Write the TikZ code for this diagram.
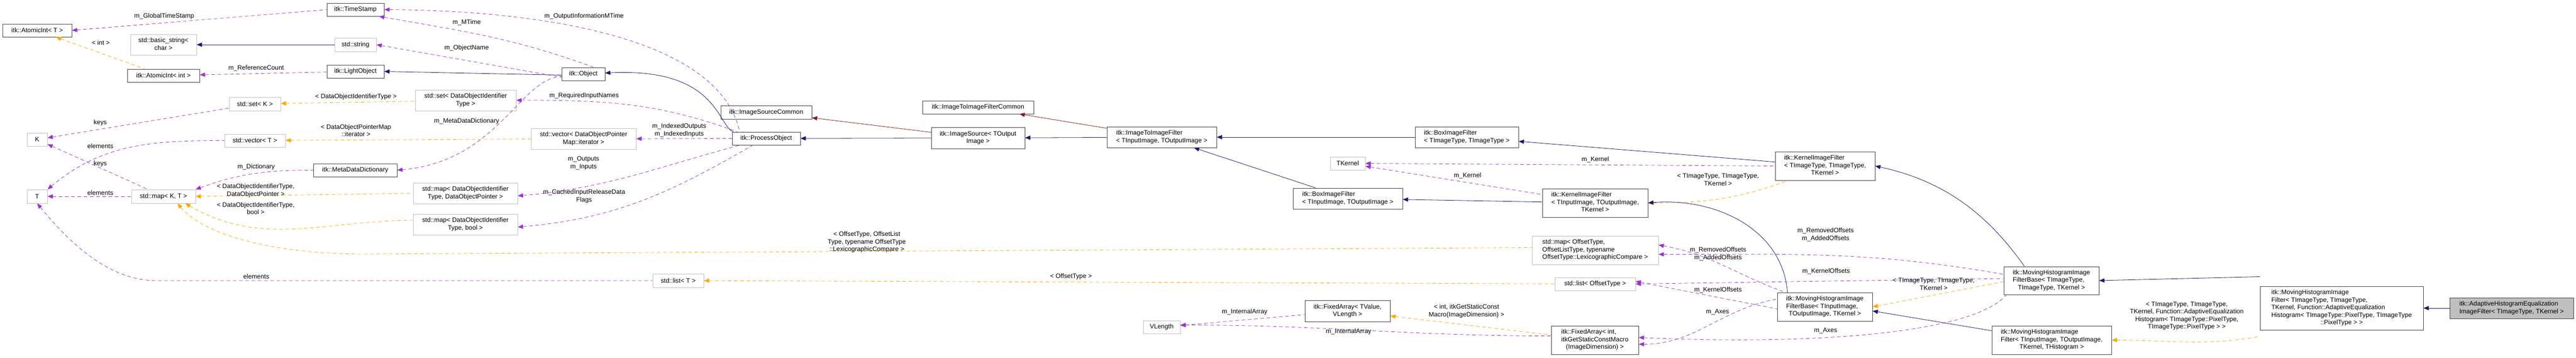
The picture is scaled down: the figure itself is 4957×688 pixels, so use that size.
\documentclass[tikz,border=0pt]{standalone}
\usepackage{fontspec}
\setmainfont{Liberation Sans}
\usetikzlibrary{arrows.meta}
\definecolor{blu}{HTML}{191970}
\definecolor{pur}{HTML}{9A32CD}
\definecolor{ora}{HTML}{FFA500}
\definecolor{dred}{HTML}{8B1A1A}
\definecolor{gb}{HTML}{BFBFBF}
\newcommand\tl[1]{\begin{tabular}{@{}l@{}}#1\end{tabular}}
\newcommand\lc[1]{\multicolumn{1}{@{}c@{}}{#1}}
\newcommand\bx[7]{\pgfmathsetmacro\bw{#4-#2}\pgfmathsetmacro\bh{#5-#3}%
  \node[#6,minimum width=\bw pt,minimum height=\bh pt] (#1) at ({(#2+#4)/2},{(#3+#5)/2}) {#7};}
\begin{document}
\begin{tikzpicture}[x=1pt,y=-1pt,
  every node/.style={font=\fontsize{12.3}{14.5}\selectfont,inner sep=0pt},
  cls/.style={draw=black!75,line width=1pt,fill=white},
  ext/.style={draw=gb,line width=1pt,fill=white},
  main/.style={draw=black!75,line width=1pt,fill=gb},
  lbl/.style={align=center},
  tip/.style={{Triangle[length=10pt,width=8pt]}-},
  inh/.style={tip,blu,line width=0.8pt},
  priv/.style={tip,dred,line width=0.8pt},
  use/.style={tip,pur,dashed,dash pattern=on 7pt off 5pt,line width=0.8pt},
  tpl/.style={tip,ora,dashed,dash pattern=on 7pt off 5pt,line width=0.8pt}]
\useasboundingbox[fill=white] (0,0) rectangle (4957,688);
% nodes
\bx{AtomicIntT}{5}{46}{138}{71}{cls}{itk::AtomicInt< T >}
\bx{basicstr}{251}{66}{378}{106}{ext}{\tl{std::basic\_string<\\\lc{char >}}}
\bx{AtomicIntInt}{245}{133}{384}{158}{cls}{itk::AtomicInt< int >}
\bx{setK}{441}{187}{540}{213}{ext}{std::set< K >}
\bx{K}{52}{256}{91}{281}{ext}{K}
\bx{vectorT}{432}{258}{549}{283}{ext}{std::vector< T >}
\bx{T}{52}{365}{91}{391}{ext}{T}
\bx{mapKT}{253}{365}{376}{391}{ext}{std::map< K, T >}
\bx{MDD}{603}{315}{764}{340}{cls}{itk::MetaDataDictionary}
\bx{TimeStamp}{629}{6}{739}{31}{cls}{itk::TimeStamp}
\bx{stdstring}{644}{73}{724}{99}{ext}{std::string}
\bx{LightObject}{629}{125}{739}{150}{cls}{itk::LightObject}
\bx{Object}{1081}{130}{1164}{155}{cls}{itk::Object}
\bx{setDOIT}{799}{173}{993}{213}{ext}{\tl{std::set< DataObjectIdentifier\\\lc{Type >}}}
\bx{vectorDOPMI}{1022}{247}{1224}{287}{ext}{\tl{std::vector< DataObjectPointer\\\lc{Map::iterator >}}}
\bx{mapDOP}{795}{352}{996}{392}{ext}{\tl{std::map< DataObjectIdentifier\\\lc{Type, DataObjectPointer >}}}
\bx{mapBool}{795}{412}{996}{452}{ext}{\tl{std::map< DataObjectIdentifier\\\lc{Type, bool >}}}
\bx{ISC}{1387}{203}{1562}{229}{cls}{itk::ImageSourceCommon}
\bx{PO}{1409}{254}{1540}{279}{cls}{itk::ProcessObject}
\bx{listT}{1256}{527}{1354}{553}{ext}{std::list< T >}
\bx{ITIFC}{1775}{194}{1989}{219}{cls}{itk::ImageToImageFilterCommon}
\bx{IS}{1792}{245}{1972}{286}{cls}{\tl{itk::ImageSource< TOutput\\\lc{Image >}}}
\bx{ITIF}{2130}{244}{2341}{284}{cls}{\tl{itk::ImageToImageFilter\\\lc{< TInputImage, TOutputImage >}}}
\bx{VLength}{2200}{617}{2271}{642}{ext}{VLength}
\bx{BoxTT}{2723}{244}{2922}{284}{cls}{\tl{itk::BoxImageFilter\\\lc{< TImageType, TImageType >}}}
\bx{TKernel}{2560}{302}{2627}{327}{ext}{TKernel}
\bx{BoxIO}{2488}{362}{2699}{402}{cls}{\tl{itk::BoxImageFilter\\\lc{< TInputImage, TOutputImage >}}}
\bx{KerIO}{2968}{363}{3171}{418}{cls}{\tl{itk::KernelImageFilter\\< TInputImage, TOutputImage,\\\lc{TKernel >}}}
\bx{mapOff}{2948}{454}{3191}{509}{ext}{\tl{std::map< OffsetType,\\OffsetListType, typename\\\lc{OffsetType::LexicographicCompare >}}}
\bx{listOff}{2992}{534}{3147}{559}{ext}{std::list< OffsetType >}
\bx{FATV}{2511}{578}{2675}{619}{cls}{\tl{itk::FixedArray< TValue,\\\lc{VLength >}}}
\bx{FAInt}{2985}{627}{3153}{682}{cls}{\tl{itk::FixedArray< int,\\itkGetStaticConstMacro\\\lc{(ImageDimension) >}}}
\bx{KerTT}{3416}{292}{3608}{347}{cls}{\tl{itk::KernelImageFilter\\< TImageType, TImageType,\\\lc{TKernel >}}}
\bx{MBIO}{3420}{563}{3603}{618}{cls}{\tl{itk::MovingHistogramImage\\FilterBase< TInputImage,\\\lc{TOutputImage, TKernel >}}}
\bx{MBTT}{3856}{513}{4039}{567}{cls}{\tl{itk::MovingHistogramImage\\FilterBase< TImageType,\\\lc{TImageType, TKernel >}}}
\bx{MFIO}{3833}{627}{4063}{682}{cls}{\tl{itk::MovingHistogramImage\\Filter< TInputImage, TOutputImage,\\\lc{TKernel, THistogram >}}}
\bx{MFTT}{4349}{551}{4663}{635}{cls}{\tl{itk::MovingHistogramImage\\Filter< TImageType, TImageType,\\ TKernel, Function::AdaptiveEqualization\\Histogram< TImageType::PixelType, TImageType\\\lc{::PixelType > >}}}
\bx{AHE}{4714}{573}{4952}{613}{main}{\tl{itk::AdaptiveHistogramEqualization\\\lc{ImageFilter< TImageType, TKernel >}}}
% edges
\draw[use] (AtomicIntT.east) -- (TimeStamp.west);
\draw[tpl] (AtomicIntT) -- (AtomicIntInt);
\draw[inh] (basicstr) -- (stdstring);
\draw[use] (AtomicIntInt) -- (LightObject);
\draw[tpl] (setK) -- (setDOIT);
\draw[use] (K) -- (setK);
\draw[tpl] (vectorT) -- (vectorDOPMI);
\draw[use] (T.north east) to[out=40,in=180] (vectorT.west);
\draw[use] (K) -- (mapKT);
\draw[use] (T) -- (mapKT);
\coordinate (lT1) at (300,540);
\draw[use] (T.south) .. controls (120,450) and (200,540) .. (lT1) -- (listT.west);
\draw[use] (mapKT.north east) to[out=20,in=180] (MDD.west);
\draw[tpl] (mapKT.east) -- (mapDOP.west);
\draw[tpl] ([xshift=-20pt]mapKT.south east) to[out=-30,in=180] ([yshift=8pt]mapBool.west);
\coordinate (mo1) at (700,489);
\draw[tpl] ([xshift=-35pt]mapKT.south east) .. controls (400,460) and (550,489) .. (mo1) -- ([yshift=5pt]mapOff.west);
\draw[use] ([xshift=-10pt]TimeStamp.south east) to[out=-10,in=160] ([xshift=20pt]Object.north);
\draw[use] (TimeStamp.east) .. controls (1000,20) and (1380,60) .. ([xshift=15pt]PO.north west);
\draw[use] (stdstring.east) -- ([yshift=-6pt]Object.west);
\draw[inh] (LightObject.east) -- ([yshift=-2pt]Object.west);
\draw[use] (MDD.east) .. controls (960,310) and (1000,150) .. ([yshift=-5pt]Object.west);
\draw[use] (setDOIT.east) to[out=0,in=160] ([xshift=10pt]PO.north west);
\draw[inh] ([yshift=2pt]Object.east) .. controls (1380,130) and (1380,240) .. ([xshift=2pt]PO.north west);
\draw[use] (vectorDOPMI.east) -- (PO.west);
\draw[use] ([yshift=-5pt]mapDOP.east) to[out=5,in=-165] ([xshift=15pt]PO.south west);
\draw[use] ([yshift=-5pt]mapBool.east) to[out=5,in=-150] ([xshift=40pt]PO.south west);
\draw[inh] (PO) -- (IS);
\draw[priv] (ISC) -- (IS);
\draw[inh] (IS) -- (ITIF);
\draw[priv] (ITIFC) -- (ITIF);
\draw[inh] (ITIF) -- (BoxTT);
\draw[inh] (ITIF) -- (BoxIO);
\draw[inh] (BoxTT) -- (KerTT);
\draw[use] (TKernel.east) -- (KerTT.west);
\draw[use] (TKernel) -- (KerIO);
\draw[inh] (BoxIO) -- (KerIO);
\draw[tpl] (KerIO.east) to[out=0,in=-160] ([xshift=25pt]KerTT.south west);
\draw[inh] (KerTT.east) .. controls (3750,350) and (3830,420) .. ([xshift=40pt]MBTT.north west);
\draw[inh] (KerIO.east) .. controls (3300,380) and (3430,440) .. ([xshift=20pt]MBIO.north west);
\draw[use] ([yshift=-8pt]mapOff.east) to[out=0,in=170] ([yshift=12pt]MBTT.west);
\draw[use] ([yshift=10pt]mapOff.east) to[out=-10,in=160] ([xshift=15pt]MBIO.north west);
\draw[use] (listOff.east) -- ([yshift=4pt]MBTT.west);
\draw[use] ([yshift=5pt]listOff.east) -- ([yshift=-4pt]MBIO.west);
\draw[use] ([yshift=-8pt]FAInt.east) to[out=0,in=190] ([yshift=15pt]MBIO.west);
\draw[use] ([yshift=5pt]FAInt.east) .. controls (3500,665) and (3800,640) .. ([xshift=5pt]MBTT.south west);
\draw[tpl] (MBIO.east) -- ([yshift=-2pt]MBTT.west);
\draw[inh] ([yshift=-8pt]MBIO.east) -- ([yshift=-10pt]MFIO.north west);
\draw[inh] (MBTT.east) -- ([yshift=18pt]MFTT.north west);
\draw[tpl] (MFIO.east) to[out=0,in=190] ([yshift=-12pt]MFTT.south west);
\draw[inh] (MFTT) -- (AHE);
\draw[tpl] (FATV) -- (FAInt);
\draw[use] (VLength) -- (FATV);
\draw[use] ([yshift=4pt]VLength.east) to[out=0,in=180] ([yshift=8pt]FAInt.west);
\draw[tpl] (listT) -- (listOff);
% labels
\node[lbl] (a1) at (316,31) {m\_GlobalTimeStamp};
\node[lbl] (a2) at (194,82) {< int >};
\node[lbl] (a3) at (493,131) {m\_ReferenceCount};
\node[lbl] (a4) at (193,236) {keys};
\node[lbl] (a5) at (193,281) {elements};
\node[lbl] (a6) at (193,315) {keys};
\node[lbl] (a7) at (193,371) {elements};
\node[lbl] (a8) at (493,321) {m\_Dictionary};
\node[lbl] (a9) at (492,367) {< DataObjectIdentifierType,\\DataObjectPointer >};
\node[lbl] (a10) at (492,401) {< DataObjectIdentifierType,\\bool >};
\node[lbl] (a11) at (493,532) {elements};
\node[lbl] (a12) at (685,186) {< DataObjectIdentifierType >};
\node[lbl] (a13) at (685,251) {< DataObjectPointerMap\\::iterator >};
\node[lbl] (a14) at (1124,31) {m\_OutputInformationMTime};
\node[lbl] (a15) at (898,43) {m\_MTime};
\node[lbl] (a16) at (898,92) {m\_ObjectName};
\node[lbl] (a17) at (1124,184) {m\_RequiredInputNames};
\node[lbl] (a18) at (898,233) {m\_MetaDataDictionary};
\node[lbl] (a19) at (1123,314) {m\_Outputs\\m\_Inputs};
\node[lbl] (a20) at (1124,378) {m\_CachedInputReleaseData\\Flags};
\node[lbl] (a21) at (1307,251) {m\_IndexedOutputs\\m\_IndexedInputs};
\node[lbl] (a22) at (1668,466) {< OffsetType, OffsetList\\Type, typename OffsetType\\::LexicographicCompare >};
\node[lbl] (a23) at (2061,532) {< OffsetType >};
\node[lbl] (a24) at (2395,600) {m\_InternalArray};
\node[lbl] (a25) at (2595,638) {m\_InternalArray};
\node[lbl] (a26) at (2824,338) {m\_Kernel};
\node[lbl] (a27) at (2822,599) {< int, itkGetStaticConst\\Macro(ImageDimension) >};
\node[lbl] (a28) at (3070,307) {m\_Kernel};
\node[lbl] (a29) at (3306,346) {< TImageType, TImageType,\\TKernel >};
\node[lbl] (a30) at (3513,452) {m\_RemovedOffsets\\m\_AddedOffsets};
\node[lbl] (a31) at (3306,489) {m\_RemovedOffsets\\m\_AddedOffsets};
\node[lbl] (a32) at (3514,522) {m\_KernelOffsets};
\node[lbl] (a33) at (3306,558) {m\_KernelOffsets};
\node[lbl] (a34) at (3305,600) {m\_Axes};
\node[lbl] (a35) at (3513,636) {m\_Axes};
\node[lbl] (a36) at (3721,547) {< TImageType, TImageType,\\TKernel >};
\node[lbl] (a37) at (4208,608) {< TImageType, TImageType,\\TKernel, Function::AdaptiveEqualization\\Histogram< TImageType::PixelType,\\TImageType::PixelType > >};
\end{tikzpicture}
\end{document}
